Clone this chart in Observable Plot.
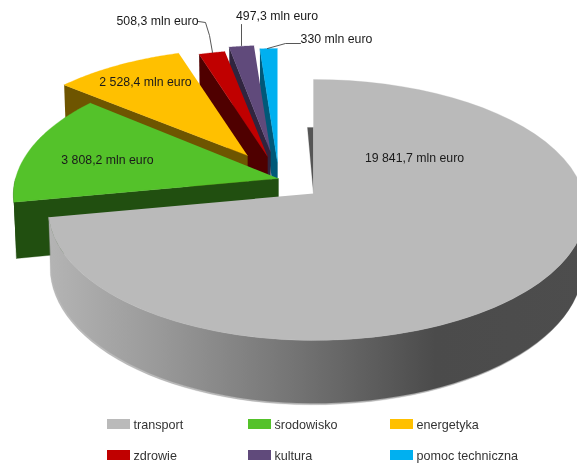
<!DOCTYPE html>
<html>
<head>
<meta charset="utf-8">
<script src="https://cdn.jsdelivr.net/npm/d3@7"></script>
<script src="https://cdn.jsdelivr.net/npm/@observablehq/plot@0.6"></script>
<style>
html,body{margin:0;padding:0;background:#fff}
svg{display:block;filter:blur(0.75px)}
</style>
</head>
<body>
<div id="chart"></div>
<script>
const categories = ["transport","środowisko","energetyka","zdrowie","kultura","pomoc techniczna"];
const values = [19841.7,3808.2,2528.4,508.3,497.3,330];
const valueLabels = ["19 841,7 mln euro","3 808,2 mln euro","2 528,4 mln euro","508,3 mln euro","497,3 mln euro","330 mln euro"];
const faceColors = ["#bababa","#54c22a","#ffc000","#c00000","#604a7b","#00b0f0"];
const wallColors = ["#555555","#214f10","#6e5500","#4f0000","#30253f","#005878"];

// Layout of the exploded, tilted pie
const apexX = [313,278,247,267,270,277];
const apexY = [193,178,155,156,151,162];
const scaleX = [1,1,0.975,0.97,0.94,1];
const scaleY = [1,1,0.935,0.935,0.93,1];
const labelX = [414,107,145,157,276.5,336];
const labelY = [158,160,82,21,16,39];
const P = {fxLeft:263, fxRight:270, fy:128.4, persp:0.126, depth:55, depthShrink:0.99};
const rad = Math.PI/180;

const arcs = d3.pie().sort(null).value(d=>d)(values);

function proj(i, theta, r, z){
  const u = r*Math.sin(theta), v = r*Math.cos(theta), w = 1+P.persp*v;
  const k = z ? P.depthShrink : 1;
  return {
    x: apexX[i] + scaleX[i]*(u>0?P.fxRight:P.fxLeft)*u/w*k,
    y: apexY[i] - scaleY[i]*P.fy*v/w + (z ? P.depth/w : 0)
  };
}
function arcPts(i,a0,a1,z){
  return d3.range(0,61).map(t=>proj(i,a0+(a1-a0)*t/60,1,z));
}
function poly(pts,fill,opacity=1){
  return Plot.line(pts,{x:"x",y:"y",fill,stroke:fill,strokeWidth:0.3,curve:"linear",fillOpacity:opacity,strokeOpacity:opacity});
}

const marks = [];
// gradient definition for the curved side
marks.push(()=>{
  const s = d3.create("svg:defs");
  const g = s.append("linearGradient").attr("id","side").attr("x1","0").attr("x2","1").attr("y1","0").attr("y2","0");
  [[0,"#b4b4b4"],[0.2,"#9a9a9a"],[0.45,"#757575"],[0.72,"#4b4b4b"],[1,"#4d4d4d"]]
    .forEach(([o,c])=>g.append("stop").attr("offset",o).attr("stop-color",c));
  return s.node();
});

// back to front
for (let i = values.length-1; i>=0; i--){
  const a = arcs[i];
  if (i>0){
    // cut wall along the slice's starting radius
    marks.push(poly([proj(i,a.startAngle,1,0),proj(i,a.startAngle,0,0),proj(i,a.startAngle,0,1),proj(i,a.startAngle,1,1)],wallColors[i]));
  } else {
    // thin visible sliver of the big slice's cut wall
    const top = proj(0,0,0.55,0), ap = proj(0,0,0,0);
    marks.push(poly([top,{x:top.x-6,y:top.y},ap],wallColors[0]));
    // curved side wall, with a soft rim beneath it
    const lo = Math.PI/2, hi = a.endAngle;
    const rim = arcPts(0,hi,lo,1).map(p=>({x:p.x-1,y:p.y+1.5}));
    marks.push(poly([...arcPts(0,lo,hi,0),...rim],"#8c8c8c",0.6));
    marks.push(poly([...arcPts(0,lo,hi,0),...arcPts(0,hi,lo,1)],"url(#side)"));
  }
  if (i===1){
    const hi = 270*rad;
    marks.push(poly([...arcPts(1,a.startAngle,hi,0),...arcPts(1,hi,a.startAngle,1)],wallColors[1]));
  }
  marks.push(poly([proj(i,a.startAngle,0,0),...arcPts(i,a.startAngle,a.endAngle,0)],faceColors[i]));
}

// leader lines
const leaders = [
  [{x:198,y:21},{x:205,y:22},{x:209,y:35},{x:212,y:52}],
  [{x:241,y:24},{x:241,y:45}],
  [{x:267,y:48},{x:285,y:43},{x:300,y:43}]
];
leaders.forEach(l=>marks.push(Plot.line(l,{x:"x",y:"y",stroke:"#444",strokeWidth:0.9})));

// value labels
const labels = valueLabels.map((t,i)=>({t,x:labelX[i],y:labelY[i]}));
marks.push(Plot.text(labels,{x:"x",y:"y",text:"t",fontSize:12.3,fill:"#1a1a1a",fontFamily:"Liberation Sans"}));

// legend
const legendCols = [107,248,390], legendRows = [424,455];
const legend = categories.map((c,i)=>({c,color:faceColors[i],x:legendCols[i%3],y:legendRows[Math.floor(i/3)]}));
legend.forEach(d=>{
  marks.push(Plot.rect([d],{x1:"x",x2:e=>e.x+23,y1:e=>e.y-5,y2:e=>e.y+5,fill:d.color}));
});
marks.push(Plot.text(legend,{x:e=>e.x+26,y:"y",text:"c",textAnchor:"start",fontSize:12.6,fill:"#333",fontFamily:"Liberation Sans"}));

const chart = Plot.plot({
  width:577,height:463,margin:0,
  x:{domain:[0,577],range:[0,577],axis:null},
  y:{domain:[0,463],range:[0,463],axis:null},
  style:{background:"#fff"},
  marks
});
document.getElementById("chart").appendChild(chart);
</script>
</body>
</html>
